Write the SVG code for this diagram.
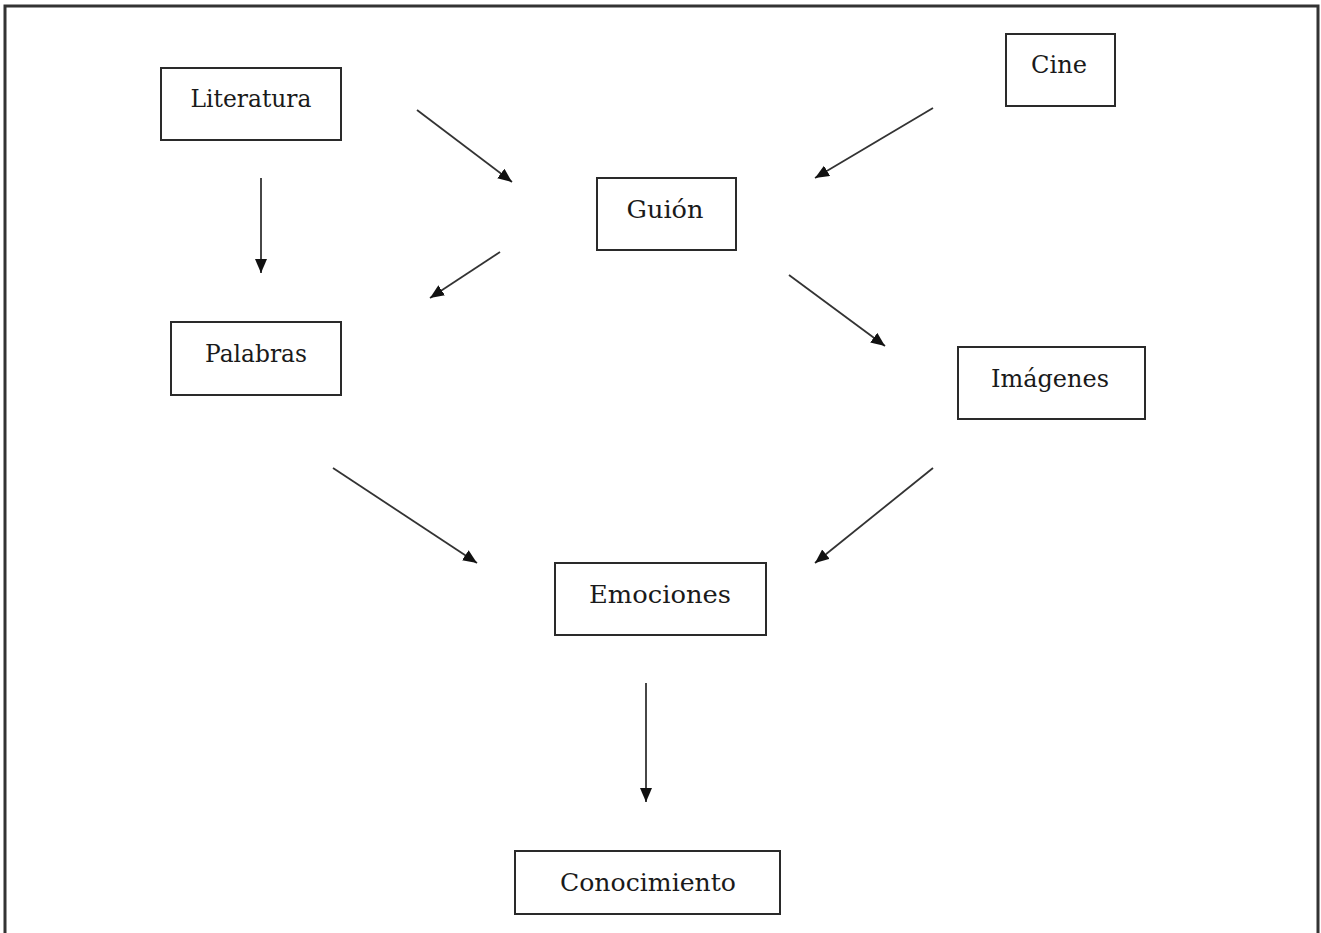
<svg xmlns="http://www.w3.org/2000/svg" width="1321" height="933" viewBox="0 0 1321 933">
  <style>
    .box { fill: #fff; stroke: #2a2a2a; stroke-width: 2; }
    .lbl { font-family: "DejaVu Serif", "Liberation Serif", serif; font-size: 25px; fill: #1a1a1a; text-anchor: middle; }
    .conn { stroke: #333; stroke-width: 1.8; fill: none; marker-end: url(#ah); }
  </style>
  <defs>
    <marker id="ah" markerUnits="userSpaceOnUse" markerWidth="16" markerHeight="14" refX="14" refY="6" orient="auto">
      <path d="M0,0 L14,6 L0,12 Z" fill="#111"/>
    </marker>
  </defs>
  <rect width="1321" height="933" fill="#fff"/>
  <path d="M5,933 V6 H1318 V933" fill="none" stroke="#333" stroke-width="3"/>

  <g id="literatura"><rect class="box" x="161" y="68" width="180" height="72"/><text class="lbl" x="251" y="107" textLength="121" lengthAdjust="spacingAndGlyphs">Literatura</text></g>
  <g id="cine"><rect class="box" x="1006" y="34" width="109" height="72"/><text class="lbl" x="1059" y="73" textLength="56" lengthAdjust="spacingAndGlyphs">Cine</text></g>
  <g id="guion"><rect class="box" x="597" y="178" width="139" height="72"/><text class="lbl" x="665" y="218" textLength="77" lengthAdjust="spacingAndGlyphs">Guión</text></g>
  <g id="palabras"><rect class="box" x="171" y="322" width="170" height="73"/><text class="lbl" x="256" y="362" textLength="102" lengthAdjust="spacingAndGlyphs">Palabras</text></g>
  <g id="imagenes"><rect class="box" x="958" y="347" width="187" height="72"/><text class="lbl" x="1050" y="387" textLength="118" lengthAdjust="spacingAndGlyphs">Imágenes</text></g>
  <g id="emociones"><rect class="box" x="555" y="563" width="211" height="72"/><text class="lbl" x="660" y="603" textLength="142" lengthAdjust="spacingAndGlyphs">Emociones</text></g>
  <g id="conocimiento"><rect class="box" x="515" y="851" width="265" height="63"/><text class="lbl" x="648" y="891" textLength="176" lengthAdjust="spacingAndGlyphs">Conocimiento</text></g>

  <g id="connectors">
    <line class="conn" x1="417" y1="110" x2="512" y2="182"/>
    <line class="conn" x1="933" y1="108" x2="815" y2="178"/>
    <line class="conn" x1="261" y1="178" x2="261" y2="273"/>
    <line class="conn" x1="500" y1="252" x2="430" y2="298"/>
    <line class="conn" x1="789" y1="275" x2="885" y2="346"/>
    <line class="conn" x1="333" y1="468" x2="477" y2="563"/>
    <line class="conn" x1="933" y1="468" x2="815" y2="563"/>
    <line class="conn" x1="646" y1="683" x2="646" y2="802"/>
  </g>
</svg>
